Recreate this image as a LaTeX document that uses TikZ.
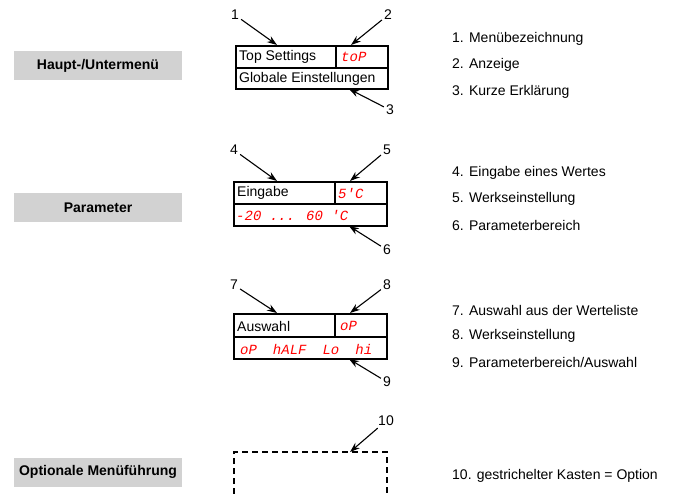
\documentclass[tikz,border=0pt]{standalone}
\usepackage{fontspec}
\setmainfont{Liberation Sans}
\newfontfamily\segfont{Liberation Mono}
\usetikzlibrary{arrows.meta}

\begin{document}
\begin{tikzpicture}[x=1pt, y=-1pt, >={Stealth[length=10pt, width=7pt]},
		rahmen/.style={line width=1.2pt},
		kopf/.style={fill=gray!35, minimum width=168pt, minimum height=29pt, font=\fontsize{14}{16}\selectfont\bfseries},
		eintrag/.style={anchor=west, inner sep=0pt, font=\fontsize{14}{16}\selectfont},
		anzeige/.style={anchor=west, inner sep=0pt, text=red, font=\fontsize{14}{16}\segfont\itshape},
		nummer/.style={inner sep=2pt, font=\fontsize{14}{16}\selectfont},
		zeiger/.style={->, line width=1.1pt}]
	\useasboundingbox (0,0) rectangle (682,494);
	
	% 1. Graue Kopffelder links
	\node[kopf] (haupt) at (98,65.5) {Haupt-/Untermenü};
	\node[kopf] (param) at (98,207.5) {Parameter};
	\node[kopf] (option) at (98,472) {Optionale Menüführung};
	
	% 2. Menükasten
	\draw[rahmen] (236,46) rectangle (388,89);
	\draw[rahmen] (236,68) -- (388,68) (336,46) -- (336,68);
	\node[eintrag] (mname) at (239,57) {Top Settings};
	\node[anzeige] (mwert) at (341,57) {toP};
	\node[eintrag] (mtext) at (239,79) {Globale Einstellungen};
	\node[nummer] (n1) at (235,15) {1};
	\node[nummer] (n2) at (388,15) {2};
	\node[nummer] (n3) at (390,110) {3};
	\coordinate (z1) at (277,45);
	\coordinate (z2) at (351,45);
	\coordinate (z3) at (349,89);
	\draw[zeiger] (n1) -- (z1);
	\draw[zeiger] (n2) -- (z2);
	\draw[zeiger] (n3) -- (z3);
	
	% 3. Parameterkasten (Wert)
	\draw[rahmen] (234,182) rectangle (387,226);
	\draw[rahmen] (234,204) -- (387,204) (335,182) -- (335,204);
	\node[eintrag] (pname) at (237,193) {Eingabe};
	\node[anzeige] (pwert) at (338,193) {5'C};
	\node[anzeige] (pbereich) at (236,215) {-20 ... 60 'C};
	\node[nummer] (n4) at (234,150) {4};
	\node[nummer] (n5) at (387,150) {5};
	\node[nummer] (n6) at (387,250) {6};
	\coordinate (z4) at (277,181);
	\coordinate (z5) at (350,181);
	\coordinate (z6) at (349,226);
	\draw[zeiger] (n4) -- (z4);
	\draw[zeiger] (n5) -- (z5);
	\draw[zeiger] (n6) -- (z6);
	
	% 4. Parameterkasten (Auswahl)
	\draw[rahmen] (234,314) rectangle (387,359);
	\draw[rahmen] (234,337) -- (387,337) (335,314) -- (335,337);
	\node[eintrag] (aname) at (237,326) {Auswahl};
	\node[anzeige] (awert) at (340,326) {oP};
	\node[anzeige] (aliste) at (240,349) {oP\hspace{16pt}hALF\hspace{16pt}Lo\hspace{16pt}hi};
	\node[nummer] (n7) at (234,285) {7};
	\node[nummer] (n8) at (387,285) {8};
	\node[nummer] (n9) at (387,382) {9};
	\coordinate (z7) at (277,313);
	\coordinate (z8) at (350,313);
	\coordinate (z9) at (349,359);
	\draw[zeiger] (n7) -- (z7);
	\draw[zeiger] (n8) -- (z8);
	\draw[zeiger] (n9) -- (z9);
	
	% 5. Gestrichelter Kasten (nach unten offen)
	\draw[line width=1.5pt, dash pattern=on 6pt off 4pt] (234,494) -- (234,452) -- (387,452) -- (387,494);
	\node[nummer] (n10) at (386,421) {10};
	\coordinate (z10) at (350,452);
	\draw[zeiger] (n10) -- (z10);
	
	% 6. Erklärungen rechts
	\node[eintrag] (e1) at (452,39) {1. Menübezeichnung};
	\node[eintrag] (e2) at (452,65) {2. Anzeige};
	\node[eintrag] (e3) at (452,92) {3. Kurze Erklärung};
	\node[eintrag] (e4) at (452,173) {4. Eingabe eines Wertes};
	\node[eintrag] (e5) at (452,199) {5. Werkseinstellung};
	\node[eintrag] (e6) at (452,225) {6. Parameterbereich};
	\node[eintrag] (e7) at (452,310) {7. Auswahl aus der Werteliste};
	\node[eintrag] (e8) at (452,336) {8. Werkseinstellung};
	\node[eintrag] (e9) at (452,362) {9. Parameterbereich/Auswahl};
	\node[eintrag] (e10) at (452,476) {10. gestrichelter Kasten = Option};
\end{tikzpicture}
\end{document}
